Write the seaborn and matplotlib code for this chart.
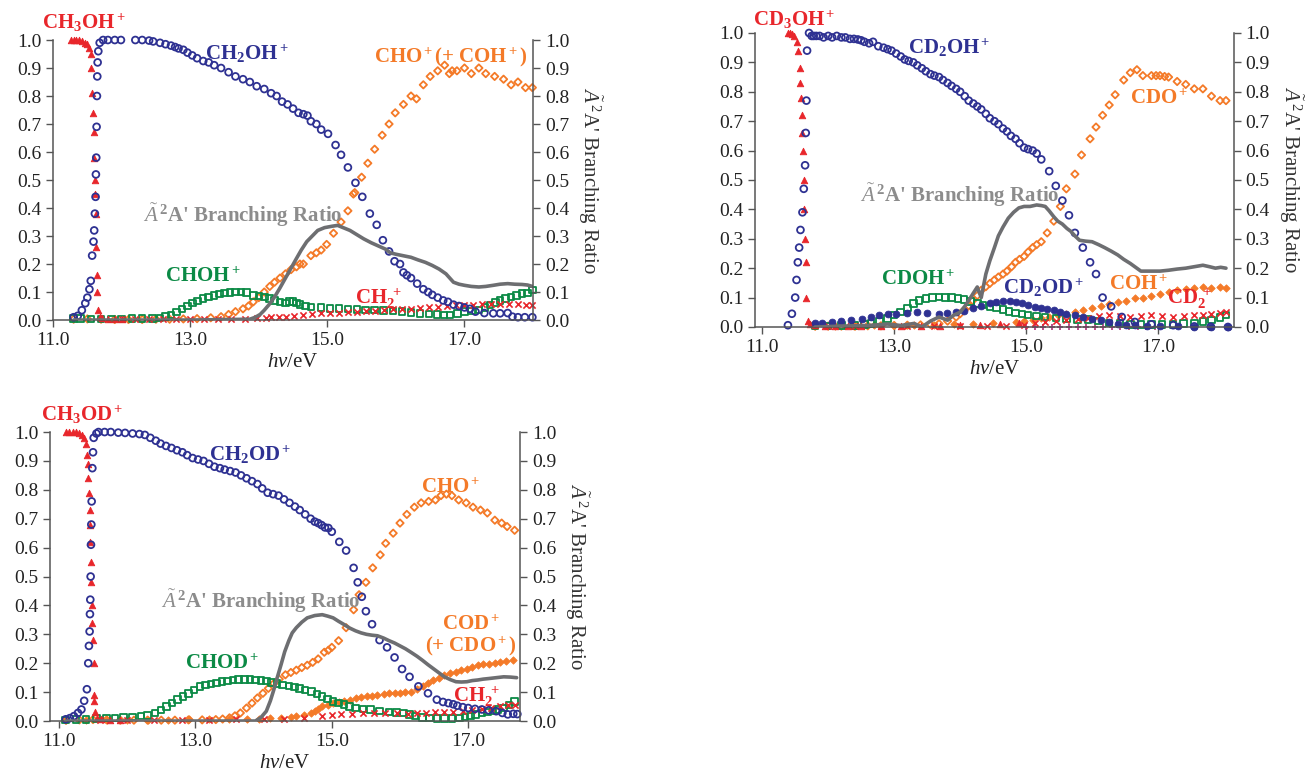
import pandas as pd
import seaborn as sns
import matplotlib.pyplot as plt
from matplotlib.ticker import FormatStrFormatter

sns.set_style("ticks")
plt.rcParams["font.family"] = ["Liberation Serif", "DejaVu Serif"]
plt.rcParams["mathtext.fontset"] = "custom"
plt.rcParams["mathtext.rm"] = "Liberation Serif"
plt.rcParams["mathtext.bf"] = "Liberation Serif:bold"
plt.rcParams["mathtext.it"] = "Liberation Serif:italic"

# colours
RED = "#e8262b"
NAVY = "#2e3192"
ORANGE = "#f47a28"
GREEN = "#0b8a45"
GRAY = "#6d6e71"
LABEL_GRAY = "#8c8c8c"
MAGENTA = "#b0307a"

# ---------------- panel 1 : CH3OH ----------------
p1_parent = [(11.26, 1.00), (11.30, 1.00), (11.34, 1.00), (11.38, 1.00), (11.42, 0.995), (11.46, 0.99),
             (11.50, 0.985), (11.53, 0.97), (11.55, 0.95), (11.56, 0.90), (11.57, 0.81), (11.58, 0.74),
             (11.59, 0.67), (11.60, 0.58), (11.605, 0.50), (11.61, 0.45), (11.62, 0.38), (11.63, 0.26),
             (11.64, 0.16), (11.645, 0.10), (11.65, 0.035), (11.68, 0.012), (11.72, 0.008), (11.80, 0.005),
             (11.90, 0.004), (12.00, 0.003)]
p1_ch2oh = [(11.30, 0.01), (11.36, 0.015), (11.42, 0.035), (11.47, 0.06), (11.50, 0.08), (11.53, 0.11),
            (11.55, 0.14), (11.57, 0.23), (11.59, 0.28), (11.60, 0.32), (11.61, 0.38), (11.62, 0.44),
            (11.625, 0.52), (11.63, 0.58), (11.635, 0.69), (11.64, 0.80), (11.645, 0.87), (11.65, 0.92),
            (11.66, 0.96), (11.68, 0.99), (11.73, 1.0), (11.80, 1.0), (11.90, 1.0), (11.99, 1.0),
            (12.20, 1.0), (12.30, 1.0), (12.40, 0.998), (12.46, 0.995), (12.56, 0.99), (12.64, 0.985),
            (12.72, 0.98), (12.78, 0.975), (12.83, 0.97), (12.90, 0.965), (12.96, 0.955), (13.03, 0.945),
            (13.10, 0.935), (13.19, 0.925), (13.27, 0.92), (13.35, 0.91), (13.45, 0.90), (13.56, 0.885),
            (13.66, 0.87), (13.77, 0.86), (13.87, 0.85), (13.97, 0.835), (14.08, 0.825), (14.18, 0.81),
            (14.26, 0.80), (14.34, 0.78), (14.42, 0.77), (14.50, 0.755), (14.58, 0.74), (14.65, 0.735),
            (14.71, 0.73), (14.76, 0.71), (14.84, 0.70), (14.91, 0.68), (15.01, 0.665), (15.12, 0.625),
            (15.20, 0.59), (15.30, 0.545), (15.41, 0.49), (15.51, 0.44), (15.62, 0.38), (15.72, 0.34),
            (15.81, 0.285), (15.90, 0.245), (15.98, 0.21), (16.06, 0.20), (16.11, 0.17), (16.16, 0.16),
            (16.22, 0.15), (16.31, 0.13), (16.40, 0.11), (16.47, 0.10), (16.53, 0.09), (16.61, 0.08),
            (16.69, 0.07), (16.76, 0.065), (16.84, 0.055), (16.92, 0.05), (17.00, 0.045), (17.08, 0.04),
            (17.16, 0.03), (17.29, 0.025), (17.42, 0.024), (17.52, 0.024), (17.63, 0.025), (17.70, 0.012),
            (17.78, 0.01), (17.88, 0.01), (17.99, 0.01)]
p1_cho = [(11.30, 0.003), (11.50, 0.004), (11.70, 0.003), (11.90, 0.002), (12.10, 0.002), (12.30, 0.002),
          (12.50, 0.003), (12.70, 0.003), (12.90, 0.004), (13.10, 0.005), (13.30, 0.008), (13.45, 0.012),
          (13.56, 0.02), (13.66, 0.03), (13.77, 0.04), (13.85, 0.05), (13.92, 0.065), (14.00, 0.08),
          (14.08, 0.10), (14.16, 0.12), (14.23, 0.135), (14.31, 0.15), (14.39, 0.165), (14.47, 0.18),
          (14.55, 0.19), (14.60, 0.20), (14.65, 0.20), (14.76, 0.23), (14.84, 0.24), (14.91, 0.25),
          (14.99, 0.27), (15.09, 0.31), (15.20, 0.35), (15.30, 0.39), (15.38, 0.45), (15.40, 0.455),
          (15.50, 0.51), (15.59, 0.56), (15.69, 0.61), (15.80, 0.66), (15.90, 0.70), (15.99, 0.74),
          (16.11, 0.77), (16.22, 0.80), (16.30, 0.79), (16.40, 0.84), (16.50, 0.87), (16.61, 0.89),
          (16.71, 0.91), (16.78, 0.88), (16.82, 0.89), (16.89, 0.89), (17.00, 0.90), (17.10, 0.88),
          (17.21, 0.90), (17.31, 0.88), (17.44, 0.87), (17.57, 0.86), (17.68, 0.84), (17.78, 0.85),
          (17.89, 0.83), (17.99, 0.83)]
p1_choh = [(11.30, 0.005), (11.40, 0.005), (11.55, 0.004), (11.70, 0.003), (11.85, 0.004), (12.00, 0.004),
           (12.15, 0.005), (12.30, 0.006), (12.45, 0.006), (12.56, 0.008), (12.64, 0.012), (12.72, 0.018),
           (12.80, 0.028), (12.88, 0.04), (12.96, 0.05), (13.03, 0.06), (13.11, 0.068), (13.19, 0.076),
           (13.27, 0.082), (13.35, 0.088), (13.43, 0.093), (13.50, 0.097), (13.58, 0.099), (13.66, 0.10),
           (13.74, 0.10), (13.82, 0.099), (13.92, 0.088), (14.00, 0.086), (14.08, 0.082), (14.16, 0.076),
           (14.23, 0.07), (14.31, 0.064), (14.39, 0.06), (14.45, 0.066), (14.50, 0.066), (14.55, 0.06),
           (14.60, 0.056), (14.68, 0.05), (14.76, 0.047), (14.91, 0.044), (15.04, 0.042), (15.17, 0.041),
           (15.30, 0.04), (15.43, 0.038), (15.56, 0.036), (15.69, 0.035), (15.82, 0.034), (15.96, 0.033),
           (16.09, 0.03), (16.22, 0.026), (16.35, 0.023), (16.48, 0.021), (16.60, 0.02), (16.70, 0.018),
           (16.79, 0.018), (16.90, 0.024), (17.00, 0.03), (17.10, 0.033), (17.21, 0.035), (17.30, 0.045),
           (17.37, 0.053), (17.45, 0.062), (17.52, 0.07), (17.60, 0.076), (17.68, 0.082), (17.76, 0.088),
           (17.84, 0.094), (17.92, 0.097), (17.99, 0.108)]
p1_ch2 = [(12.00, 0.003), (12.20, 0.003), (12.40, 0.003), (12.60, 0.003), (12.80, 0.004), (13.00, 0.004),
          (13.20, 0.004), (13.40, 0.005), (13.60, 0.005), (13.80, 0.005), (13.97, 0.006), (14.10, 0.008),
          (14.18, 0.01), (14.30, 0.011), (14.39, 0.012), (14.52, 0.015), (14.65, 0.018), (14.78, 0.021),
          (14.91, 0.024), (15.04, 0.025), (15.17, 0.026), (15.30, 0.028), (15.43, 0.029), (15.56, 0.031),
          (15.69, 0.033), (15.82, 0.035), (15.96, 0.038), (16.09, 0.04), (16.22, 0.041), (16.35, 0.044),
          (16.48, 0.047), (16.61, 0.048), (16.74, 0.05), (16.87, 0.052), (17.00, 0.053), (17.13, 0.055),
          (17.26, 0.056), (17.39, 0.058), (17.52, 0.059), (17.65, 0.058), (17.78, 0.056), (17.90, 0.055),
          (17.99, 0.053)]
p1_state = [(11.30, 0.0), (12.00, 0.0), (13.00, 0.0), (13.60, 0.002), (13.87, 0.003), (13.95, 0.01),
            (14.02, 0.02), (14.08, 0.035), (14.15, 0.055), (14.23, 0.082), (14.31, 0.115), (14.39, 0.15),
            (14.47, 0.185), (14.55, 0.22), (14.62, 0.25), (14.70, 0.28), (14.78, 0.30), (14.86, 0.32),
            (14.96, 0.33), (15.07, 0.335), (15.15, 0.338), (15.23, 0.33), (15.33, 0.32), (15.43, 0.305),
            (15.53, 0.29), (15.64, 0.276), (15.74, 0.265), (15.85, 0.253), (15.92, 0.24), (16.00, 0.235),
            (16.10, 0.23), (16.22, 0.224), (16.32, 0.215), (16.43, 0.206), (16.53, 0.195), (16.63, 0.182),
            (16.73, 0.165), (16.84, 0.135), (16.92, 0.128), (17.00, 0.124), (17.10, 0.12), (17.21, 0.118),
            (17.31, 0.12), (17.42, 0.124), (17.52, 0.128), (17.63, 0.13), (17.73, 0.128), (17.84, 0.127),
            (17.92, 0.125), (17.99, 0.12)]

# ---------------- panel 2 : CD3OH ----------------
p2_parent = [(11.39, 1.0), (11.42, 1.0), (11.45, 0.995), (11.48, 0.99), (11.52, 0.97), (11.55, 0.94),
             (11.57, 0.88), (11.58, 0.83), (11.59, 0.78), (11.60, 0.72), (11.61, 0.66), (11.62, 0.60),
             (11.63, 0.50), (11.64, 0.40), (11.65, 0.30), (11.66, 0.22), (11.67, 0.10), (11.69, 0.02),
             (11.72, 0.01), (11.80, 0.006), (11.95, 0.005), (12.10, 0.004), (12.30, 0.003), (12.50, 0.003),
             (12.80, 0.004), (13.10, 0.003), (13.40, 0.004), (13.70, 0.005), (14.00, 0.006), (14.30, 0.008),
             (14.60, 0.01), (14.90, 0.012)]
p2_cd2oh = [(11.39, 0.006), (11.45, 0.045), (11.50, 0.10), (11.52, 0.16), (11.54, 0.22), (11.56, 0.27),
            (11.58, 0.33), (11.61, 0.39), (11.63, 0.47), (11.65, 0.55), (11.66, 0.66), (11.67, 0.77),
            (11.68, 0.94), (11.71, 1.0), (11.75, 0.99), (11.78, 0.99), (11.82, 0.99), (11.87, 0.99),
            (11.93, 0.985), (12.00, 0.99), (12.06, 0.985), (12.13, 0.99), (12.20, 0.985), (12.26, 0.985),
            (12.33, 0.98), (12.39, 0.98), (12.45, 0.978), (12.50, 0.975), (12.55, 0.97), (12.62, 0.965),
            (12.68, 0.97), (12.76, 0.955), (12.84, 0.95), (12.90, 0.945), (12.96, 0.94), (13.03, 0.93),
            (13.10, 0.92), (13.16, 0.91), (13.22, 0.905), (13.29, 0.90), (13.35, 0.89), (13.42, 0.88),
            (13.48, 0.87), (13.55, 0.86), (13.61, 0.855), (13.68, 0.85), (13.74, 0.84), (13.81, 0.83),
            (13.87, 0.82), (13.94, 0.81), (14.00, 0.80), (14.07, 0.785), (14.13, 0.77), (14.20, 0.76),
            (14.26, 0.75), (14.32, 0.74), (14.39, 0.725), (14.45, 0.71), (14.52, 0.70), (14.58, 0.69),
            (14.65, 0.675), (14.71, 0.665), (14.77, 0.65), (14.84, 0.64), (14.90, 0.625), (14.97, 0.61),
            (15.03, 0.605), (15.10, 0.60), (15.16, 0.59), (15.23, 0.57), (15.35, 0.53), (15.45, 0.48),
            (15.55, 0.43), (15.65, 0.38), (15.74, 0.32), (15.86, 0.27), (15.97, 0.22), (16.06, 0.18),
            (16.16, 0.10), (16.29, 0.07), (16.45, 0.034), (16.65, 0.017), (16.90, 0.009), (17.23, 0.006),
            (17.55, 0.002), (17.80, 0.001), (18.06, 0.0)]
p2_cd2od = [(11.80, 0.012), (11.90, 0.013), (12.06, 0.017), (12.20, 0.02), (12.35, 0.024), (12.52, 0.028),
            (12.65, 0.035), (12.77, 0.04), (12.90, 0.043), (13.03, 0.045), (13.20, 0.048), (13.35, 0.05),
            (13.50, 0.048), (13.68, 0.045), (13.80, 0.047), (13.94, 0.05), (14.06, 0.055), (14.19, 0.063),
            (14.32, 0.072), (14.45, 0.08), (14.55, 0.086), (14.65, 0.09), (14.75, 0.088), (14.84, 0.085),
            (14.94, 0.08), (15.03, 0.074), (15.13, 0.068), (15.23, 0.063), (15.32, 0.06), (15.42, 0.057),
            (15.52, 0.05), (15.61, 0.045), (15.74, 0.04), (15.87, 0.034), (16.00, 0.028), (16.13, 0.023),
            (16.26, 0.017), (16.39, 0.011), (16.52, 0.008), (16.65, 0.006), (16.84, 0.004), (17.03, 0.003),
            (17.30, 0.002), (17.55, 0.0), (17.80, 0.0), (18.06, 0.0)]
p2_cdo = [(11.80, 0.003), (12.00, 0.003), (12.20, 0.003), (12.40, 0.003), (12.60, 0.004), (12.80, 0.004),
          (13.00, 0.005), (13.20, 0.006), (13.40, 0.007), (13.55, 0.009), (13.68, 0.011), (13.81, 0.02),
          (13.94, 0.034), (14.00, 0.045), (14.06, 0.057), (14.13, 0.072), (14.19, 0.09), (14.26, 0.107),
          (14.32, 0.125), (14.39, 0.137), (14.45, 0.148), (14.52, 0.16), (14.58, 0.17), (14.65, 0.18),
          (14.71, 0.19), (14.78, 0.205), (14.84, 0.22), (14.90, 0.23), (14.97, 0.24), (15.03, 0.255),
          (15.10, 0.27), (15.16, 0.28), (15.23, 0.29), (15.32, 0.32), (15.42, 0.36), (15.52, 0.41),
          (15.61, 0.47), (15.74, 0.52), (15.84, 0.585), (15.97, 0.64), (16.06, 0.68), (16.16, 0.72),
          (16.26, 0.755), (16.35, 0.79), (16.48, 0.84), (16.58, 0.865), (16.68, 0.875), (16.77, 0.855),
          (16.90, 0.855), (16.97, 0.855), (17.03, 0.855), (17.10, 0.852), (17.16, 0.85), (17.29, 0.835),
          (17.42, 0.825), (17.55, 0.81), (17.68, 0.81), (17.81, 0.785), (17.94, 0.77), (18.03, 0.77)]
p2_coh = [(11.80, 0.004), (12.10, 0.004), (12.40, 0.005), (12.70, 0.006), (13.00, 0.006), (13.30, 0.007),
          (13.60, 0.008), (13.90, 0.009), (14.20, 0.01), (14.50, 0.012), (14.84, 0.017), (14.97, 0.02),
          (15.10, 0.025), (15.23, 0.03), (15.35, 0.034), (15.48, 0.04), (15.61, 0.045), (15.74, 0.05),
          (15.87, 0.057), (16.00, 0.063), (16.13, 0.07), (16.26, 0.078), (16.39, 0.085), (16.52, 0.09),
          (16.65, 0.097), (16.77, 0.10), (16.90, 0.105), (17.03, 0.112), (17.16, 0.12), (17.29, 0.125),
          (17.42, 0.13), (17.55, 0.133), (17.68, 0.136), (17.81, 0.134), (17.94, 0.135), (18.03, 0.134)]
p2_cdoh = [(11.80, 0.004), (12.00, 0.004), (12.20, 0.005), (12.40, 0.005), (12.55, 0.008), (12.65, 0.011),
           (12.78, 0.02), (12.90, 0.028), (13.00, 0.04), (13.10, 0.051), (13.20, 0.065), (13.29, 0.08),
           (13.38, 0.09), (13.48, 0.097), (13.58, 0.10), (13.68, 0.102), (13.78, 0.101), (13.87, 0.10),
           (13.97, 0.097), (14.06, 0.093), (14.16, 0.087), (14.26, 0.08), (14.35, 0.075), (14.45, 0.07),
           (14.55, 0.064), (14.65, 0.059), (14.74, 0.053), (14.84, 0.048), (14.94, 0.044), (15.03, 0.04),
           (15.16, 0.037), (15.29, 0.034), (15.45, 0.031), (15.61, 0.028), (15.78, 0.026), (15.94, 0.025),
           (16.10, 0.02), (16.26, 0.014), (16.42, 0.011), (16.58, 0.009), (16.74, 0.009), (16.90, 0.009),
           (17.06, 0.009), (17.23, 0.009), (17.39, 0.011), (17.55, 0.014), (17.68, 0.018), (17.81, 0.023),
           (17.94, 0.033), (18.03, 0.04)]
p2_cd2 = [(12.00, 0.003), (12.40, 0.003), (12.80, 0.003), (13.20, 0.003), (13.60, 0.004), (14.00, 0.004),
          (14.40, 0.005), (14.70, 0.005), (14.97, 0.006), (15.13, 0.012), (15.29, 0.017), (15.45, 0.021),
          (15.61, 0.025), (15.78, 0.028), (15.94, 0.032), (16.10, 0.036), (16.26, 0.04), (16.42, 0.037),
          (16.58, 0.034), (16.74, 0.037), (16.90, 0.04), (17.06, 0.037), (17.23, 0.034), (17.39, 0.037),
          (17.55, 0.04), (17.68, 0.042), (17.81, 0.045), (17.94, 0.049), (18.03, 0.051)]
p2_minor = [(15.00, 0.0), (15.13, 0.0), (15.26, 0.0), (15.39, 0.0), (15.52, 0.0), (15.65, 0.0), (15.78, 0.0),
            (15.91, 0.0), (16.04, 0.0), (16.17, 0.0), (16.30, 0.0), (16.43, 0.0), (16.56, 0.0), (16.69, 0.0),
            (16.82, 0.0), (16.95, 0.0)]
p2_state = [(11.80, 0.0), (12.20, 0.003), (12.60, 0.005), (12.90, 0.01), (13.10, 0.005), (13.30, 0.012),
            (13.42, 0.0), (13.55, 0.02), (13.68, 0.034), (13.81, 0.023), (13.90, 0.04), (14.00, 0.05),
            (14.07, 0.07), (14.13, 0.09), (14.20, 0.115), (14.26, 0.136), (14.32, 0.10), (14.39, 0.18),
            (14.45, 0.225), (14.52, 0.27), (14.58, 0.31), (14.65, 0.34), (14.73, 0.37), (14.81, 0.39),
            (14.89, 0.405), (14.97, 0.41), (15.06, 0.41), (15.16, 0.415), (15.23, 0.413), (15.29, 0.41),
            (15.35, 0.395), (15.42, 0.375), (15.48, 0.36), (15.55, 0.35), (15.62, 0.335), (15.68, 0.325),
            (15.74, 0.31), (15.81, 0.295), (15.90, 0.292), (16.00, 0.29), (16.10, 0.28), (16.19, 0.27),
            (16.29, 0.258), (16.39, 0.245), (16.48, 0.23), (16.58, 0.216), (16.66, 0.203), (16.74, 0.19),
            (16.82, 0.19), (16.90, 0.19), (17.03, 0.19), (17.16, 0.193), (17.29, 0.197), (17.42, 0.20),
            (17.55, 0.205), (17.68, 0.21), (17.78, 0.205), (17.87, 0.20), (17.95, 0.203), (18.03, 0.20)]

# ---------------- panel 3 : CH3OD ----------------
p3_parent = [(11.10, 1.0), (11.15, 1.0), (11.20, 1.0), (11.25, 1.0), (11.30, 0.995), (11.34, 0.99),
             (11.37, 0.98), (11.39, 0.96), (11.41, 0.92), (11.42, 0.89), (11.43, 0.84), (11.44, 0.79),
             (11.45, 0.73), (11.455, 0.68), (11.46, 0.62), (11.465, 0.55), (11.47, 0.48), (11.48, 0.40),
             (11.49, 0.34), (11.50, 0.28), (11.51, 0.20), (11.515, 0.09), (11.52, 0.07), (11.53, 0.03),
             (11.56, 0.01), (11.62, 0.006), (11.75, 0.004), (11.90, 0.003)]
p3_ch2od = [(11.10, 0.006), (11.16, 0.01), (11.22, 0.017), (11.28, 0.028), (11.33, 0.04), (11.37, 0.07),
            (11.41, 0.11), (11.43, 0.20), (11.44, 0.26), (11.45, 0.31), (11.455, 0.37), (11.46, 0.42),
            (11.465, 0.50), (11.47, 0.61), (11.475, 0.68), (11.48, 0.76), (11.49, 0.875), (11.50, 0.93),
            (11.51, 0.98), (11.55, 0.995), (11.58, 1.0), (11.67, 1.0), (11.76, 1.0), (11.87, 0.998),
            (11.97, 0.997), (12.08, 0.995), (12.18, 0.993), (12.26, 0.99), (12.34, 0.98), (12.42, 0.97),
            (12.49, 0.96), (12.57, 0.952), (12.65, 0.945), (12.73, 0.937), (12.81, 0.93), (12.88, 0.92),
            (12.96, 0.91), (13.04, 0.905), (13.12, 0.90), (13.20, 0.89), (13.28, 0.88), (13.36, 0.875),
            (13.43, 0.87), (13.51, 0.865), (13.59, 0.86), (13.67, 0.85), (13.75, 0.84), (13.83, 0.83),
            (13.91, 0.82), (13.98, 0.805), (14.06, 0.79), (14.14, 0.785), (14.22, 0.78), (14.30, 0.767),
            (14.38, 0.755), (14.46, 0.742), (14.53, 0.73), (14.61, 0.715), (14.69, 0.70), (14.75, 0.69),
            (14.80, 0.685), (14.85, 0.678), (14.90, 0.67), (14.95, 0.668), (15.00, 0.655), (15.11, 0.62),
            (15.21, 0.59), (15.32, 0.53), (15.38, 0.48), (15.44, 0.43), (15.50, 0.38), (15.59, 0.335),
            (15.70, 0.28), (15.81, 0.255), (15.92, 0.22), (16.03, 0.18), (16.14, 0.153), (16.27, 0.12),
            (16.41, 0.096), (16.54, 0.074), (16.63, 0.066), (16.71, 0.062), (16.78, 0.058), (16.84, 0.053),
            (16.92, 0.048), (17.00, 0.045), (17.10, 0.042), (17.20, 0.04), (17.30, 0.037), (17.41, 0.034),
            (17.50, 0.028), (17.58, 0.023), (17.66, 0.025), (17.72, 0.024)]
p3_cho = [(11.10, 0.003), (11.30, 0.004), (11.50, 0.005), (11.70, 0.004), (11.90, 0.003), (12.10, 0.003),
          (12.30, 0.003), (12.50, 0.003), (12.70, 0.003), (12.90, 0.004), (13.10, 0.004), (13.30, 0.005),
          (13.40, 0.007), (13.50, 0.011), (13.58, 0.018), (13.66, 0.028), (13.75, 0.045), (13.83, 0.062),
          (13.91, 0.08), (13.99, 0.096), (14.07, 0.113), (14.15, 0.13), (14.23, 0.145), (14.32, 0.16),
          (14.40, 0.168), (14.48, 0.176), (14.56, 0.185), (14.64, 0.193), (14.72, 0.203), (14.80, 0.215),
          (14.89, 0.238), (14.95, 0.245), (15.00, 0.255), (15.10, 0.278), (15.21, 0.323), (15.32, 0.385),
          (15.40, 0.437), (15.50, 0.48), (15.60, 0.53), (15.71, 0.575), (15.79, 0.615), (15.90, 0.65),
          (16.00, 0.685), (16.10, 0.715), (16.21, 0.74), (16.31, 0.755), (16.42, 0.76), (16.52, 0.765),
          (16.60, 0.78), (16.68, 0.785), (16.76, 0.78), (16.86, 0.765), (16.97, 0.755), (17.07, 0.74),
          (17.18, 0.73), (17.28, 0.72), (17.39, 0.695), (17.49, 0.685), (17.57, 0.673), (17.68, 0.66)]
p3_cod = [(11.10, 0.004), (11.40, 0.005), (11.70, 0.005), (12.00, 0.004), (12.30, 0.004), (12.60, 0.005),
          (12.90, 0.006), (13.20, 0.007), (13.50, 0.007), (13.75, 0.008), (13.93, 0.008), (14.10, 0.01),
          (14.25, 0.012), (14.40, 0.014), (14.48, 0.017), (14.60, 0.022), (14.70, 0.028), (14.75, 0.034),
          (14.80, 0.04), (14.86, 0.051), (14.94, 0.057), (15.02, 0.062), (15.10, 0.065), (15.18, 0.068),
          (15.26, 0.073), (15.35, 0.079), (15.43, 0.082), (15.51, 0.085), (15.59, 0.088), (15.67, 0.091),
          (15.76, 0.094), (15.84, 0.096), (15.92, 0.096), (16.00, 0.096), (16.08, 0.099), (16.16, 0.102),
          (16.25, 0.11), (16.33, 0.121), (16.41, 0.132), (16.49, 0.142), (16.57, 0.15), (16.65, 0.159),
          (16.74, 0.165), (16.82, 0.17), (16.90, 0.175), (16.98, 0.181), (17.06, 0.187), (17.14, 0.193),
          (17.22, 0.196), (17.30, 0.198), (17.39, 0.201), (17.47, 0.204), (17.56, 0.207), (17.66, 0.21)]
p3_chod = [(11.10, 0.004), (11.25, 0.005), (11.40, 0.006), (11.55, 0.008), (11.70, 0.01), (11.82, 0.011),
           (11.95, 0.012), (12.08, 0.014), (12.20, 0.017), (12.30, 0.02), (12.41, 0.028), (12.50, 0.038),
           (12.58, 0.051), (12.66, 0.062), (12.74, 0.074), (12.82, 0.085), (12.90, 0.096), (12.98, 0.108),
           (13.07, 0.119), (13.15, 0.124), (13.23, 0.128), (13.31, 0.132), (13.39, 0.136), (13.47, 0.139),
           (13.55, 0.142), (13.63, 0.143), (13.72, 0.144), (13.80, 0.143), (13.88, 0.142), (13.96, 0.14),
           (14.04, 0.138), (14.12, 0.134), (14.20, 0.13), (14.28, 0.125), (14.37, 0.121), (14.45, 0.117),
           (14.53, 0.113), (14.61, 0.108), (14.70, 0.102), (14.78, 0.094), (14.86, 0.085), (14.94, 0.076),
           (15.02, 0.068), (15.10, 0.062), (15.18, 0.057), (15.26, 0.05), (15.35, 0.045), (15.46, 0.042),
           (15.57, 0.04), (15.70, 0.035), (15.84, 0.031), (15.95, 0.03), (16.05, 0.028), (16.14, 0.022),
           (16.22, 0.017), (16.33, 0.013), (16.43, 0.011), (16.54, 0.009), (16.65, 0.008), (16.76, 0.009),
           (16.87, 0.011), (16.95, 0.014), (17.03, 0.017), (17.11, 0.022), (17.20, 0.028), (17.28, 0.031),
           (17.36, 0.034), (17.44, 0.04), (17.52, 0.045), (17.60, 0.055), (17.68, 0.068)]
p3_ch2 = [(11.60, 0.003), (12.00, 0.003), (12.40, 0.004), (12.80, 0.004), (13.20, 0.005), (13.60, 0.006),
          (14.00, 0.007), (14.30, 0.008), (14.60, 0.01), (14.86, 0.017), (15.00, 0.02), (15.13, 0.023),
          (15.30, 0.026), (15.46, 0.028), (15.62, 0.028), (15.78, 0.028), (15.95, 0.027), (16.11, 0.026),
          (16.25, 0.027), (16.38, 0.028), (16.52, 0.03), (16.65, 0.031), (16.78, 0.032), (16.92, 0.034),
          (17.06, 0.037), (17.20, 0.04), (17.33, 0.045), (17.47, 0.051), (17.58, 0.054), (17.68, 0.057)]
p3_state = [(11.10, 0.0), (12.00, 0.0), (13.00, 0.0), (13.60, 0.0), (13.88, 0.0), (13.96, 0.012),
            (14.04, 0.034), (14.10, 0.07), (14.15, 0.108), (14.20, 0.15), (14.26, 0.198), (14.31, 0.24),
            (14.37, 0.278), (14.42, 0.305), (14.48, 0.323), (14.56, 0.342), (14.64, 0.357), (14.75, 0.365),
            (14.86, 0.368), (14.94, 0.363), (15.02, 0.357), (15.10, 0.345), (15.18, 0.334), (15.26, 0.322),
            (15.35, 0.312), (15.43, 0.305), (15.51, 0.30), (15.59, 0.297), (15.67, 0.295), (15.76, 0.287),
            (15.84, 0.278), (15.92, 0.27), (16.00, 0.26), (16.08, 0.25), (16.16, 0.238), (16.25, 0.224),
            (16.33, 0.21), (16.41, 0.195), (16.49, 0.181), (16.57, 0.167), (16.65, 0.153), (16.74, 0.143),
            (16.82, 0.136), (16.90, 0.135), (16.98, 0.136), (17.06, 0.14), (17.14, 0.142), (17.22, 0.145),
            (17.30, 0.147), (17.41, 0.15), (17.52, 0.153), (17.62, 0.152), (17.71, 0.15)]

# marker styles: (marker, size, filled, colour)
styles = {
    "tri": ("^", 22, True, RED),
    "circ": ("o", 24, False, NAVY),
    "circ_fill": ("o", 24, True, NAVY),
    "dia": ("D", 14, False, ORANGE),
    "dia_fill": ("D", 14, True, ORANGE),
    "sq": ("s", 22, False, GREEN),
    "cross": ("x", 20, None, RED),
    "plus": ("+", 20, None, MAGENTA),
}

state_label = r"$\tilde{A}\,^{\mathbf{2}}\mathbf{A}$' Branching Ratio"
axis_label = r"$\tilde{A}\,^2$A' Branching Ratio"

panels = [
    {
        "rect": [0.0405, 0.5897, 0.3664, 0.359], "xlim": (11.0, 18.0),
        "series": [(p1_cho, "dia"), (p1_choh, "sq"), (p1_ch2, "cross"), (p1_parent, "tri"), (p1_ch2oh, "circ")],
        "state": p1_state,
        "labels": [(11.45, 1.06, r"$\mathbf{CH_3OH^+}$", RED), (13.82, 0.95, r"$\mathbf{CH_2OH^+}$", NAVY),
                   (16.8, 0.94, r"$\mathbf{CHO^+ (+\ COH^+)}$", ORANGE), (13.19, 0.153, r"$\mathbf{CHOH^+}$", GREEN),
                   (15.75, 0.077, r"$\mathbf{CH_2^{\ +}}$", RED), (13.76, 0.376, state_label, LABEL_GRAY)],
    },
    {
        "rect": [0.5763, 0.5808, 0.3656, 0.3769], "xlim": (10.89, 18.15),
        "series": [(p2_minor, "plus"), (p2_coh, "dia_fill"), (p2_cdo, "dia"), (p2_cdoh, "sq"), (p2_cd2, "cross"),
                   (p2_parent, "tri"), (p2_cd2od, "circ_fill"), (p2_cd2oh, "circ")],
        "state": p2_state,
        "labels": [(11.48, 1.045, r"$\mathbf{CD_3OH^+}$", RED), (13.84, 0.949, r"$\mathbf{CD_2OH^+}$", NAVY),
                   (17.01, 0.776, r"$\mathbf{CDO^+}$", ORANGE), (13.37, 0.159, r"$\mathbf{CDOH^+}$", GREEN),
                   (15.27, 0.134, r"$\mathbf{CD_2OD^+}$", NAVY), (16.71, 0.142, r"$\mathbf{COH^+}$", ORANGE),
                   (17.48, 0.097, r"$\mathbf{CD_2^{\ +}}$", RED), (14.0, 0.449, state_label, LABEL_GRAY)],
    },
    {
        "rect": [0.0382, 0.0756, 0.3588, 0.3705], "xlim": (10.87, 17.76),
        "series": [(p3_cod, "dia_fill"), (p3_cho, "dia"), (p3_chod, "sq"), (p3_ch2, "cross"),
                   (p3_parent, "tri"), (p3_ch2od, "circ")],
        "state": p3_state,
        "labels": [(11.34, 1.06, r"$\mathbf{CH_3OD^+}$", RED), (13.8, 0.92, r"$\mathbf{CH_2OD^+}$", NAVY),
                   (16.74, 0.806, r"$\mathbf{CHO^+}$", ORANGE), (17.04, 0.334, r"$\mathbf{COD^+}$", ORANGE),
                   (17.03, 0.26, r"$\mathbf{(+\ CDO^+)}$", ORANGE), (13.39, 0.198, r"$\mathbf{CHOD^+}$", GREEN),
                   (17.12, 0.085, r"$\mathbf{CH_2^{\ +}}$", RED), (13.96, 0.414, state_label, LABEL_GRAY)],
    },
]


def draw_scatter(ax, pairs, key):
    marker, size, filled, col = styles[key]
    df = pd.DataFrame(pairs, columns=["hv", "ratio"])
    kw = dict(data=df, x="hv", y="ratio", ax=ax, marker=marker, s=size, legend=False, clip_on=False)
    if filled is None:
        sns.scatterplot(color=col, linewidth=1.2, **kw)
    elif filled:
        sns.scatterplot(color=col, edgecolor=col, linewidth=0.6, **kw)
    else:
        sns.scatterplot(facecolor="none", edgecolor=col, linewidth=1.3, **kw)


fig = plt.figure(figsize=(13.1, 7.8), dpi=100)
fig.patch.set_facecolor("white")

for p in panels:
    ax = fig.add_axes(p["rect"])
    for pairs, key in p["series"]:
        draw_scatter(ax, pairs, key)
    ax.set_xlim(*p["xlim"])
    ax.set_ylim(0, 1.0)
    ax.set_xticks([11, 13, 15, 17])
    ax.set_yticks([i / 10 for i in range(11)])
    ax.xaxis.set_major_formatter(FormatStrFormatter("%.1f"))
    ax.yaxis.set_major_formatter(FormatStrFormatter("%.1f"))
    ax.set_xlabel(r"$hv$/eV", fontsize=15, color="#222", labelpad=3)
    ax.set_ylabel("")
    for s in ["top", "right"]:
        ax.spines[s].set_visible(False)
    for s in ["left", "bottom"]:
        ax.spines[s].set_color("#555")
        ax.spines[s].set_linewidth(1.1)
    ax.tick_params(direction="out", length=5, width=1, colors="#555", labelcolor="#222", labelsize=14)

    ax2 = ax.twinx()
    sdf = pd.DataFrame(p["state"], columns=["hv", "ratio"])
    sns.lineplot(data=sdf, x="hv", y="ratio", ax=ax2, color=GRAY, linewidth=2.6, errorbar=None)
    ax2.set_ylim(0, 1.0)
    ax2.set_yticks([i / 10 for i in range(11)])
    ax2.yaxis.set_major_formatter(FormatStrFormatter("%.1f"))
    for s in ["top", "left", "bottom"]:
        ax2.spines[s].set_visible(False)
    ax2.spines["right"].set_color("#555")
    ax2.spines["right"].set_linewidth(1.1)
    ax2.tick_params(direction="out", length=5, width=1, colors="#555", labelcolor="#222", labelsize=14)
    ax2.set_ylabel(axis_label, fontsize=15, color="#333", rotation=270, va="bottom", labelpad=5)
    ax2.set_xlabel("")

    for x, y, txt, col in p["labels"]:
        ax.text(x, y, txt, color=col, fontsize=15, fontweight="bold", ha="center", va="center")

fig.savefig("out.png", dpi=100)
